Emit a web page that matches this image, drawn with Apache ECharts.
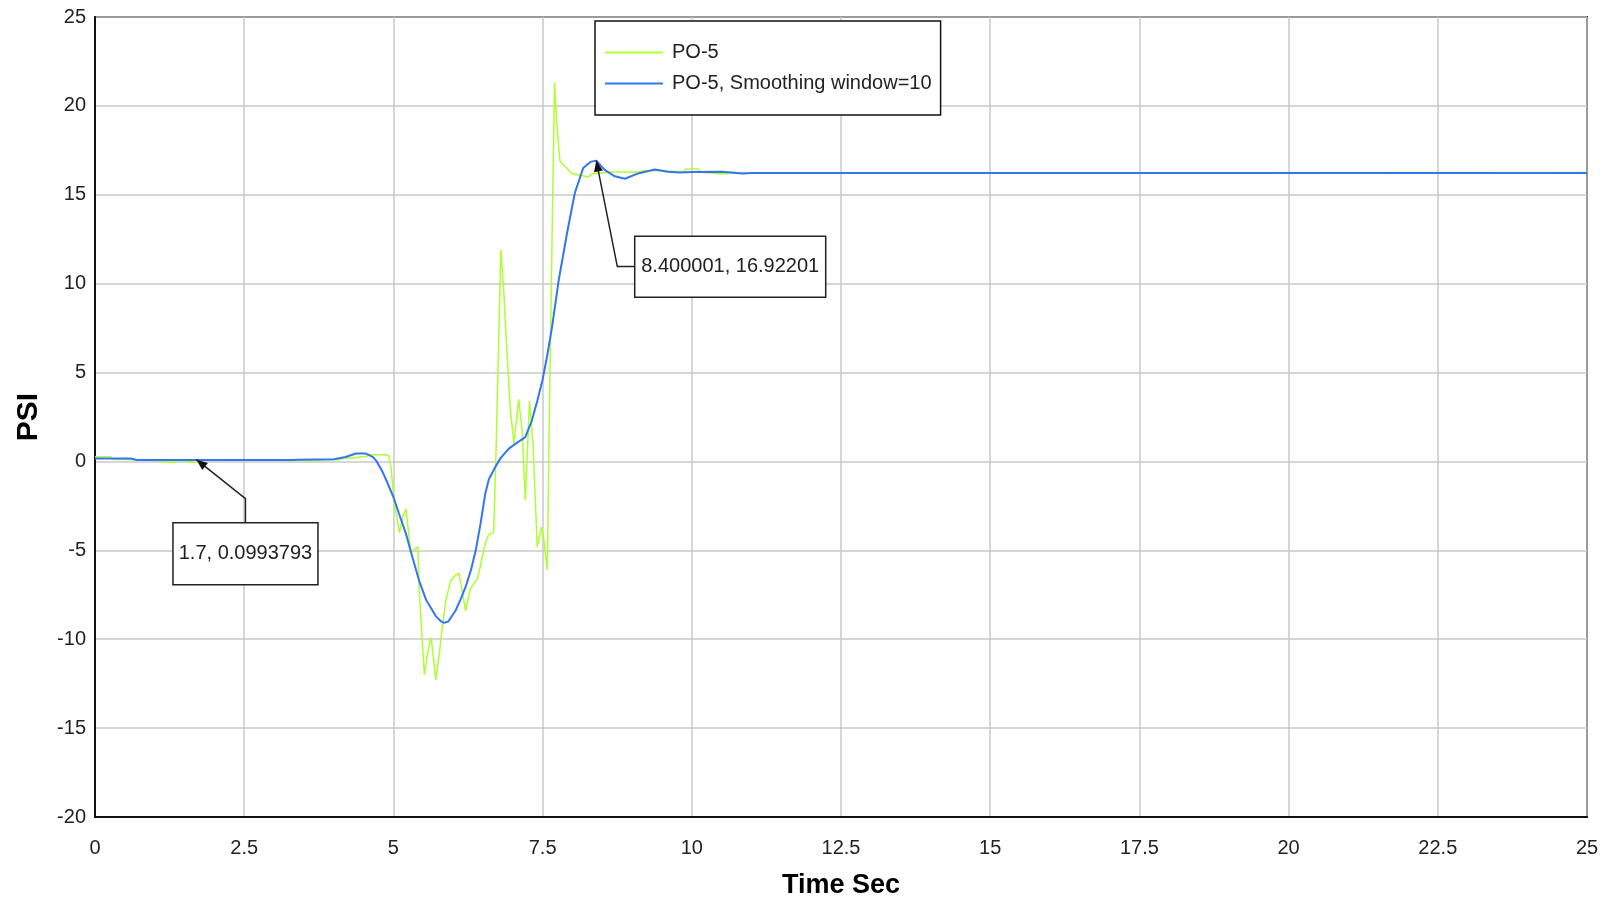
<!DOCTYPE html>
<html><head><meta charset="utf-8">
<script src="https://cdn.jsdelivr.net/npm/echarts@6/dist/echarts.min.js"></script>
<style>html,body{margin:0;padding:0;background:#fff}#c{width:1606px;height:904px}</style>
</head><body><div id="c"></div>
<script>
// ---- data ----
const seriesNames = ['PO-5', 'PO-5, Smoothing window=10'];
const rawT = [0, 0.25, 0.3, 0.6, 1.0, 1.17, 1.35, 1.4, 1.57, 1.74, 1.8, 2.0, 2.35, 2.55, 2.6, 3.0, 3.25, 3.75, 3.8, 4.1, 4.15, 4.37, 4.45, 4.54, 4.59, 4.87, 4.92, 4.96, 5.01, 5.1, 5.16, 5.21, 5.29, 5.41, 5.43, 5.48, 5.52, 5.57, 5.63, 5.67, 5.71, 5.77, 5.82, 5.88, 5.96, 6.04, 6.1, 6.21, 6.29, 6.41, 6.54, 6.6, 6.68, 6.72, 6.77, 6.8, 6.85, 6.91, 6.96, 7.02, 7.1, 7.16, 7.21, 7.28, 7.34, 7.41, 7.48, 7.52, 7.58, 7.61, 7.66, 7.7, 7.74, 7.79, 7.99, 8.27, 8.34, 8.43, 8.6, 9.1, 9.2, 9.5, 9.86, 9.9, 10.1, 10.15, 10.45, 10.6, 10.65, 10.84, 11.0, 25];
const rawV = [0.26, 0.26, 0.12, 0.1, 0.08, -0.04, -0.04, 0.08, -0.04, -0.04, 0.08, 0.08, 0.09, 0.09, 0.08, 0.08, 0.05, 0.05, 0.1, 0.1, 0.19, 0.19, 0.26, 0.26, 0.37, 0.37, 0.34, -0.34, -2.2, -4.0, -3.1, -2.66, -5.1, -4.8, -7.06, -9.9, -12.0, -10.8, -9.9, -11.0, -12.3, -10.8, -9.3, -7.8, -6.7, -6.4, -6.3, -8.4, -7.15, -6.6, -4.6, -4.1, -4.0, 0.6, 7.6, 11.9, 9.5, 5.7, 2.9, 1.0, 3.5, 1.6, -2.2, 3.4, 1.0, -4.8, -3.7, -4.4, -6.1, 2.0, 12.85, 21.3, 18.9, 16.9, 16.2, 16.0, 16.2, 16.2, 16.28, 16.28, 16.35, 16.35, 16.28, 16.45, 16.45, 16.28, 16.18, 16.18, 16.28, 16.22, 16.22, 16.25];
const smoothT = [0, 0.6, 0.7, 3.3, 3.4, 4.0, 4.2, 4.37, 4.53, 4.66, 4.72, 4.82, 4.9, 5.0, 5.1, 5.21, 5.32, 5.43, 5.55, 5.71, 5.8, 5.85, 5.92, 6.04, 6.12, 6.21, 6.3, 6.38, 6.46, 6.54, 6.6, 6.71, 6.8, 6.93, 7.05, 7.21, 7.32, 7.41, 7.5, 7.58, 7.66, 7.77, 7.91, 8.04, 8.18, 8.3, 8.4, 8.54, 8.71, 8.88, 9.1, 9.38, 9.6, 9.8, 10.0, 10.5, 10.84, 11.0, 25];
const smoothV = [0.17, 0.17, 0.08, 0.08, 0.1, 0.12, 0.25, 0.45, 0.45, 0.24, 0.0, -0.6, -1.2, -2.0, -3.0, -4.06, -5.4, -6.7, -7.8, -8.7, -9.0, -9.08, -9.0, -8.4, -7.8, -7.06, -6.1, -5.0, -3.5, -1.8, -1.0, -0.3, 0.2, 0.71, 1.0, 1.37, 2.3, 3.4, 4.6, 6.0, 7.6, 10.2, 12.85, 15.1, 16.5, 16.85, 16.92, 16.4, 16.04, 15.9, 16.2, 16.42, 16.3, 16.25, 16.28, 16.3, 16.2, 16.22, 16.22];
const annX = [1.7, 8.400001];
const annY = [0.0993793, 16.92201];
const annText = ['1.7, 0.0993793', '8.400001, 16.92201'];

// ---- layout / style ----
const annLayout = [
  {elbow: [49, 39], join: [49, 63], box: {x: -23.5, y: 63, w: 145, h: 62}},
  {elbow: [21, 106], join: [38, 106], box: {x: 38.4, y: 75.6, w: 191, h: 61}}
];
const FONT = "'Liberation Sans', Arial, sans-serif";
const FS = 20;
const TXT = '#222';
const GREEN = '#adff2f', BLUE = '#3475f2';

const zip = (t, v) => t.map((x, i) => [x, v[i]]);
const chart = echarts.init(document.getElementById('c'));
chart.setOption({
  animation: false,
  backgroundColor: '#fff',
  grid: {left: 95, right: 19, top: 17, bottom: 87, show: true, borderColor: '#111', borderWidth: 2, backgroundColor: 'transparent'},
  legend: {
    data: seriesNames.map(n => ({name: n, icon: 'rect'})), orient: 'vertical', left: 595, top: 21,
    backgroundColor: '#fff', borderColor: '#111', borderWidth: 1.5, borderRadius: 0,
    padding: [18, 9, 18, 10], itemWidth: 58, itemHeight: 2, itemGap: 4,
    textStyle: {fontSize: FS, fontFamily: FONT, color: TXT, lineHeight: 27, padding: [0, 0, 0, 4]}
  },
  xAxis: {
    type: 'value', min: 0, max: 25, interval: 2.5,
    name: 'Time Sec', nameLocation: 'middle', nameGap: 55,
    nameTextStyle: {fontSize: 27, fontWeight: 'bold', fontFamily: FONT, color: '#000'},
    axisLine: {show: true, onZero: false, lineStyle: {color: '#111', width: 2}},
    axisTick: {show: false},
    axisLabel: {fontSize: FS, fontFamily: FONT, color: TXT, margin: 21},
    splitLine: {show: true, lineStyle: {color: '#c8c8c8', width: 1.5}}
  },
  yAxis: {
    type: 'value', min: -20, max: 25, interval: 5,
    name: 'PSI', nameLocation: 'middle', nameGap: 51, nameRotate: 90,
    nameTextStyle: {fontSize: 30, fontWeight: 'bold', fontFamily: FONT, color: '#000'},
    axisLine: {show: true, onZero: false, lineStyle: {color: '#111', width: 2}},
    axisTick: {show: false},
    axisLabel: {fontSize: FS, fontFamily: FONT, color: TXT, margin: 9},
    splitLine: {show: true, lineStyle: {color: '#c8c8c8', width: 1.5}}
  },
  series: [
    {name: seriesNames[0], type: 'line', data: zip(rawT, rawV), symbol: 'none', lineStyle: {color: GREEN, width: 1.5}, itemStyle: {color: GREEN}, z: 2},
    {name: seriesNames[1], type: 'line', data: zip(smoothT, smoothV), symbol: 'none', lineStyle: {color: BLUE, width: 2}, itemStyle: {color: BLUE}, z: 3}
  ]
});

// ---- annotations (callouts) ----
const gfx = [];
annX.forEach((x, i) => {
  const p = chart.convertToPixel({gridIndex: 0}, [x, annY[i]]);
  const L = annLayout[i];
  const e = [p[0] + L.elbow[0], p[1] + L.elbow[1]];
  const j = [p[0] + L.join[0], p[1] + L.join[1]];
  gfx.push({type: 'polyline', z: 100, shape: {points: [p, e, j]}, style: {stroke: '#222', lineWidth: 1.5, fill: null}});
  let dx = p[0] - e[0], dy = p[1] - e[1]; const len = Math.hypot(dx, dy); dx /= len; dy /= len;
  const bx = p[0] - dx * 11, by = p[1] - dy * 11, px = -dy * 4.5, py = dx * 4.5;
  gfx.push({type: 'polygon', z: 101, shape: {points: [p, [bx + px, by + py], [bx - px, by - py]]}, style: {fill: '#111'}});
  const b = L.box;
  gfx.push({type: 'rect', z: 100, shape: {x: p[0] + b.x, y: p[1] + b.y, width: b.w, height: b.h}, style: {fill: '#fff', stroke: '#222', lineWidth: 1.5}});
  gfx.push({type: 'text', z: 102, x: p[0] + b.x + b.w / 2, y: p[1] + b.y + b.h / 2,
    style: {text: annText[i], fontSize: FS, fontFamily: FONT, fill: TXT, align: 'center', verticalAlign: 'middle'}});
});
chart.setOption({graphic: gfx});
</script></body></html>
